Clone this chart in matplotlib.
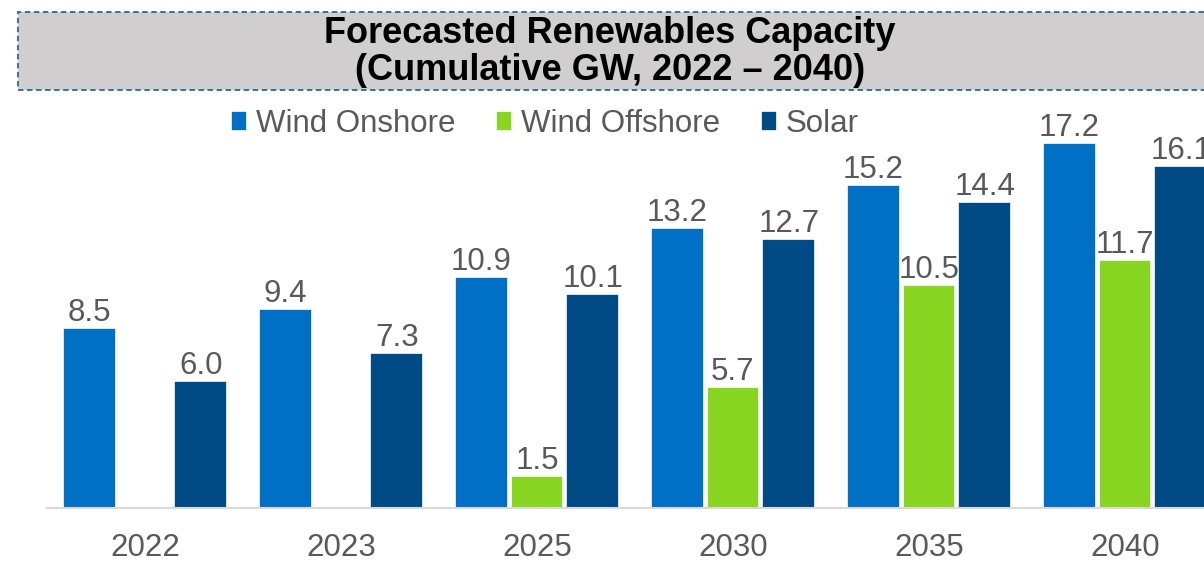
import numpy as np
import matplotlib.pyplot as plt
from matplotlib.patches import Rectangle

plt.rcParams['font.family'] = ['Liberation Sans', 'DejaVu Sans']

years = ['2022', '2023', '2025', '2030', '2035', '2040']
wind_onshore = [8.5, 9.4, 10.9, 13.2, 15.2, 17.2]
wind_offshore = [np.nan, np.nan, 1.5, 5.7, 10.5, 11.7]
solar = [6.0, 7.3, 10.1, 12.7, 14.4, 16.1]

series = [
    ('Wind Onshore', wind_onshore, '#0070C6'),
    ('Wind Offshore', wind_offshore, '#88D622'),
    ('Solar', solar, '#004A86'),
]

W, H = 1204, 563
fig = plt.figure(figsize=(W / 100, H / 100), dpi=100)

# axes spill past the right edge like the original slide crop
left, right, bottom, top = 47, 1223, 508, 110
ax = fig.add_axes([left / W, 1 - bottom / H, (right - left) / W, (bottom - top) / H])

x = np.arange(len(years))
width = 0.27
offsets = [-0.285, 0, 0.285]
for (name, vals, col), off in zip(series, offsets):
    bars = ax.bar(x + off, vals, width, color=col, edgecolor='white', linewidth=1.2, label=name)
    for b, v in zip(bars, vals):
        if np.isnan(v):
            continue
        ax.annotate(f'{v:.1f}', (b.get_x() + b.get_width() / 2, v), xytext=(0, 0),
                    textcoords='offset points', ha='center', va='bottom',
                    fontsize=22.5, color='#595959')

ax.set_xlim(-0.5, len(years) - 0.5)
ax.set_ylim(0, (bottom - top) / 21.22)
ax.set_xticks(x)
ax.set_xticklabels(years, fontsize=22.5, color='#595959')
ax.tick_params(axis='x', length=0, pad=18)
ax.set_yticks([])
for s in ['top', 'right', 'left']:
    ax.spines[s].set_visible(False)
ax.spines['bottom'].set_color('#D9D9D9')
ax.spines['bottom'].set_linewidth(1.5)

handles, labels = ax.get_legend_handles_labels()
fig.legend(handles, labels, loc='center', bbox_to_anchor=(545 / W, 1 - 124 / H),
           ncol=3, frameon=False, fontsize=22.5, labelcolor='#595959',
           handlelength=0.5, handleheight=0.65, handletextpad=0.3, columnspacing=1.3)

# title box
box = Rectangle((18 / W, 1 - 90 / H), (1240 - 18) / W, 78 / H, transform=fig.transFigure,
                facecolor='#D0CECE', edgecolor='#2C6A8C', linestyle=(0, (3, 2)),
                linewidth=1.3, clip_on=False)
fig.patches.append(box)
fig.text(610 / W, 1 - 52 / H, 'Forecasted Renewables Capacity\n(Cumulative GW, 2022 \u2013 2040)',
         ha='center', va='center', fontsize=26, fontweight='bold', linespacing=1.1,
         family=['Liberation Sans Narrow', 'Liberation Sans', 'DejaVu Sans'])

fig.savefig('out.png', dpi=100)
